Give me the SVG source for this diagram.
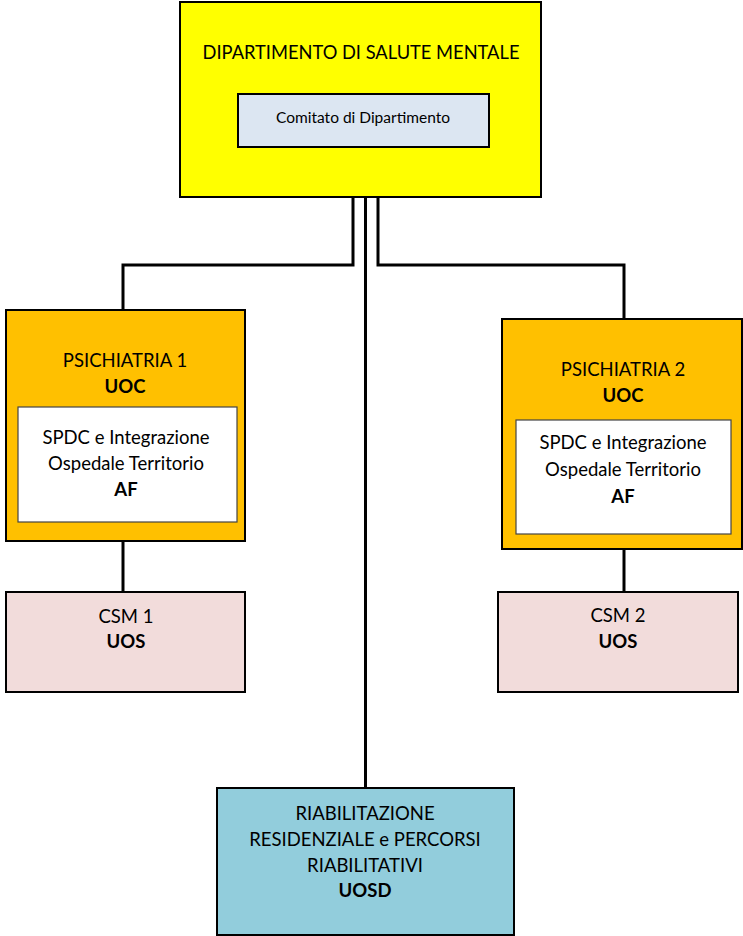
<svg xmlns="http://www.w3.org/2000/svg" width="743" height="936" viewBox="0 0 743 936">
  <style>
    text { font-family: Lato, "Open Sans", sans-serif; fill: #000; text-anchor: middle; font-size: 18.5px; }
    .b { font-weight: bold; }
    .box { stroke: #000; stroke-width: 2; }
    .inner { stroke: #444; stroke-width: 1.2; fill: #fff; }
    .link { fill: none; stroke: #000; stroke-width: 3; }
  </style>

  <rect x="0" y="0" width="743" height="936" fill="#fff"/>

  <!-- connectors -->
  <g id="connectors">
    <polyline class="link" points="353,197 353,265 123,265 123,310"/>
    <line class="link" x1="365.5" y1="197" x2="365.5" y2="788"/>
    <polyline class="link" points="378,197 378,265 624,265 624,319"/>
    <line class="link" x1="123" y1="541" x2="123" y2="592"/>
    <line class="link" x1="624" y1="549" x2="624" y2="592"/>
  </g>

  <!-- department -->
  <g id="dipartimento">
    <rect class="box" x="180" y="2" width="361" height="195" fill="#FFFF00"/>
    <text x="361" y="59" style="font-size:18.3px">DIPARTIMENTO DI SALUTE MENTALE</text>
    <g id="comitato">
      <rect class="box" x="238" y="94" width="251" height="53" fill="#DCE6F2"/>
      <text x="363" y="123" style="font-size:15.5px">Comitato di Dipartimento</text>
    </g>
  </g>

  <!-- Psichiatria 1 -->
  <g id="psichiatria1">
    <rect class="box" x="6" y="310" width="239" height="231" fill="#FFC000"/>
    <text x="125" y="367">PSICHIATRIA 1</text>
    <text class="b" x="125" y="393">UOC</text>
    <rect class="inner" x="18" y="407" width="219" height="115"/>
    <text x="126" y="444">SPDC e Integrazione</text>
    <text x="126" y="470">Ospedale Territorio</text>
    <text class="b" x="126" y="496">AF</text>
  </g>

  <!-- Psichiatria 2 -->
  <g id="psichiatria2">
    <rect class="box" x="502" y="319" width="240" height="230" fill="#FFC000"/>
    <text x="623" y="376">PSICHIATRIA 2</text>
    <text class="b" x="623" y="402">UOC</text>
    <rect class="inner" x="516" y="420" width="215" height="114"/>
    <text x="623" y="449">SPDC e Integrazione</text>
    <text x="623" y="476">Ospedale Territorio</text>
    <text class="b" x="623" y="503">AF</text>
  </g>

  <!-- CSM 1 -->
  <g id="csm1">
    <rect class="box" x="6" y="592" width="239" height="100" fill="#F2DCDB"/>
    <text x="126" y="623">CSM 1</text>
    <text class="b" x="126" y="648">UOS</text>
  </g>

  <!-- CSM 2 -->
  <g id="csm2">
    <rect class="box" x="498" y="592" width="240" height="100" fill="#F2DCDB"/>
    <text x="618" y="622">CSM 2</text>
    <text class="b" x="618" y="648">UOS</text>
  </g>

  <!-- Riabilitazione -->
  <g id="riabilitazione">
    <rect class="box" x="217" y="788" width="297" height="147" fill="#92CDDC"/>
    <text x="365" y="820">RIABILITAZIONE</text>
    <text x="365" y="846">RESIDENZIALE e PERCORSI</text>
    <text x="365" y="872">RIABILITATIVI</text>
    <text class="b" x="365" y="897">UOSD</text>
  </g>
</svg>
